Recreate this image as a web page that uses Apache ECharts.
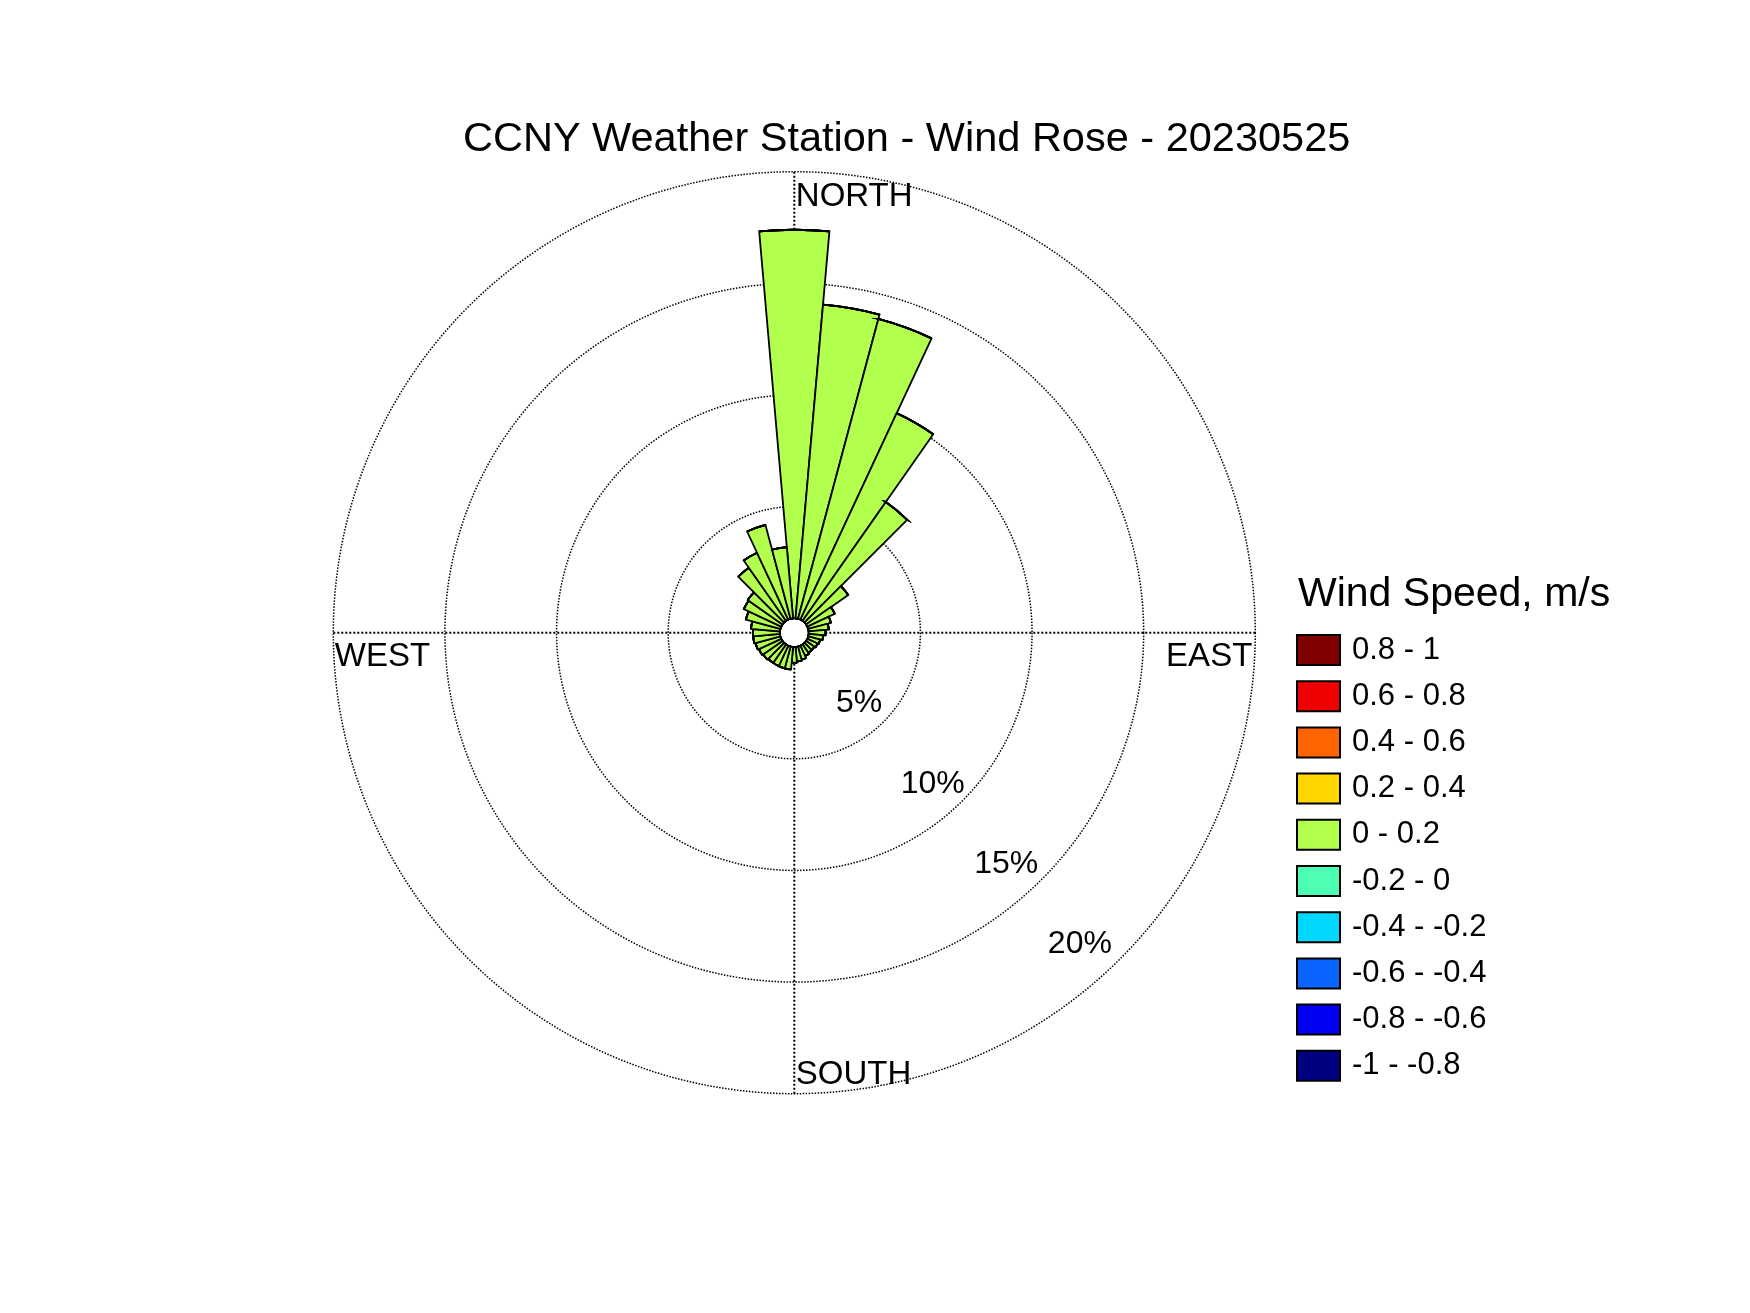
<!DOCTYPE html>
<html><head><meta charset="utf-8">
<script src="https://cdn.jsdelivr.net/npm/echarts@6/dist/echarts.min.js"></script>
<style>html,body{margin:0;padding:0;background:#fff}#c{width:1750px;height:1313px}</style>
</head><body><div id="c"></div>
<script>
// ---- data ----
const titleText = 'CCNY Weather Station - Wind Rose - 20230525';
const legendTitle = 'Wind Speed, m/s';
const directions = ['0','10','20','30','40','50','60','70','80','90','100','110','120','130','140','150','160','170',
                    '180','190','200','210','220','230','240','250','260','270','280','290','300','310','320','330','340','350'];
// frequency (%) of wind from each direction for speed bin "0 - 0.2"
const freq_0_to_02 = [17.4, 14.1, 13.9, 10.2, 6.5, 2.3, 1.35, 1.05, 0.9, 0.75, 0.65, 0.55, 0.5, 0.45, 0.45, 0.5, 0.6, 0.65,
                      0.7, 1.0, 1.0, 1.0, 1.0, 1.05, 1.1, 1.15, 1.2, 1.2, 1.3, 1.6, 1.85, 1.9, 2.9, 3.3, 4.35, 3.2];
const freqEmpty = [0,0,0,0,0,0,0,0,0,0,0,0,0,0,0,0,0,0,0,0,0,0,0,0,0,0,0,0,0,0,0,0,0,0,0,0];
const speedBins = ['-1 - -0.8','-0.8 - -0.6','-0.6 - -0.4','-0.4 - -0.2','-0.2 - 0','0 - 0.2','0.2 - 0.4','0.4 - 0.6','0.6 - 0.8','0.8 - 1'];
const binColors = ['#000080','#0000f2','#0a64ff','#00d8ff','#4dffb3','#b3ff4d','#ffd500','#ff6400','#f00000','#800000'];
const binValues = [freqEmpty, freqEmpty, freqEmpty, freqEmpty, freqEmpty, freq_0_to_02, freqEmpty, freqEmpty, freqEmpty, freqEmpty];
const ringTicks = [5, 10, 15, 20];
const cardinalNames = ['NORTH', 'EAST', 'SOUTH', 'WEST'];
const cardinalAngles = [0, 90, 180, 270];

// ---- layout ----
const CX = 794.3, CY = 632.7, R0 = 14.5, R1 = 461;
const FONT = '"Liberation Sans", Arial, Helvetica, sans-serif';

const chart = echarts.init(document.getElementById('c'), null, {renderer: 'canvas'});

const series = speedBins.map((name, i) => ({
  type: 'bar',
  name: name,
  coordinateSystem: 'polar',
  polarIndex: 0,
  stack: 'rose',
  data: binValues[i],
  barCategoryGap: '0%',
  barGap: '0%',
  itemStyle: { color: binColors[i], borderColor: '#000', borderWidth: 1.8 },
  emphasis: { disabled: true },
  z: 3
}));

const option = {
  animation: false,
  backgroundColor: '#fff',
  title: [
    { text: titleText, left: 463, top: 119, padding: 0,
      textStyle: { fontFamily: FONT, fontSize: 41.5, fontWeight: 'normal', color: '#000' } },
    { text: legendTitle, left: 1298, top: 574, padding: 0,
      textStyle: { fontFamily: FONT, fontSize: 41, fontWeight: 'normal', color: '#000' } }
  ],
  legend: {
    orient: 'vertical',
    left: 1296, top: 634, padding: 0,
    itemWidth: 43, itemHeight: 30, itemGap: 14.2,
    icon: 'rect',
    data: speedBins.slice().reverse(),
    selectedMode: false,
    itemStyle: { borderColor: '#000', borderWidth: 2 },
    textStyle: { fontFamily: FONT, fontSize: 31, color: '#000', lineHeight: 30, padding: [0, 0, 0, 7] }
  },
  polar: [
    { center: [CX, CY], radius: [R0, R1] },
    { center: [CX, CY], radius: [R0, R1] },
    { center: [CX, CY], radius: [0, 422.7] }
  ],
  angleAxis: [
    { polarIndex: 0, type: 'category', data: directions, startAngle: 95, clockwise: true,
      axisLine: { show: false }, axisTick: { show: false }, axisLabel: { show: false }, splitLine: { show: false } },
    { polarIndex: 1, type: 'value', min: 0, max: 360, interval: 90, startAngle: 90, clockwise: true,
      axisLine: { show: false }, axisTick: { show: false }, axisLabel: { show: false },
      splitLine: { show: true, lineStyle: { color: '#000', width: 2, type: 'dotted' } } },
    { polarIndex: 2, type: 'value', min: 0, max: 360, startAngle: -47.5, clockwise: true,
      axisLine: { show: false }, axisTick: { show: false }, axisLabel: { show: false }, splitLine: { show: false } }
  ],
  radiusAxis: [
    { polarIndex: 0, type: 'value', min: 0, max: 20, interval: 5,
      axisLine: { show: false }, axisTick: { show: false }, axisLabel: { show: false },
      splitLine: { show: true, lineStyle: { color: '#000', width: 1.5, type: 'dotted' } } },
    { polarIndex: 1, type: 'value', min: 0, max: 20,
      axisLine: { show: false }, axisTick: { show: false }, axisLabel: { show: false }, splitLine: { show: false } },
    { polarIndex: 2, type: 'value', min: 0.6, max: 20,
      axisLine: { show: false }, axisTick: { show: false }, splitLine: { show: false },
      axisLabel: { show: true, customValues: ringTicks, margin: 0, align: 'center', verticalAlign: 'middle',
                   formatter: '{value}%', fontFamily: FONT, fontSize: 32, color: '#000' } }
  ],
  series: series
};
chart.setOption(option);

// cardinal direction labels anchored at the outer ring through the polar scale
const offsets = {
  NORTH: { dx: 1.5, dy: 25, align: 'left' },
  EAST:  { dx: -3, dy: 24, align: 'right' },
  SOUTH: { dx: 1.5, dy: -19, align: 'left' },
  WEST:  { dx: 1.5, dy: 24, align: 'left' }
};
const graphics = cardinalNames.map((name, i) => {
  let p = chart.convertToPixel({ polarIndex: 1 }, [20, cardinalAngles[i]]);
  if (!p) {
    const a = cardinalAngles[i] * Math.PI / 180;
    p = [CX + R1 * Math.sin(a), CY - R1 * Math.cos(a)];
  }
  const o = offsets[name];
  return {
    type: 'text', z: 10,
    style: { text: name, x: p[0] + o.dx, y: p[1] + o.dy, fill: '#000',
             font: '33px ' + FONT, align: o.align, verticalAlign: 'middle' }
  };
});
chart.setOption({ graphic: graphics });
</script>
</body></html>
